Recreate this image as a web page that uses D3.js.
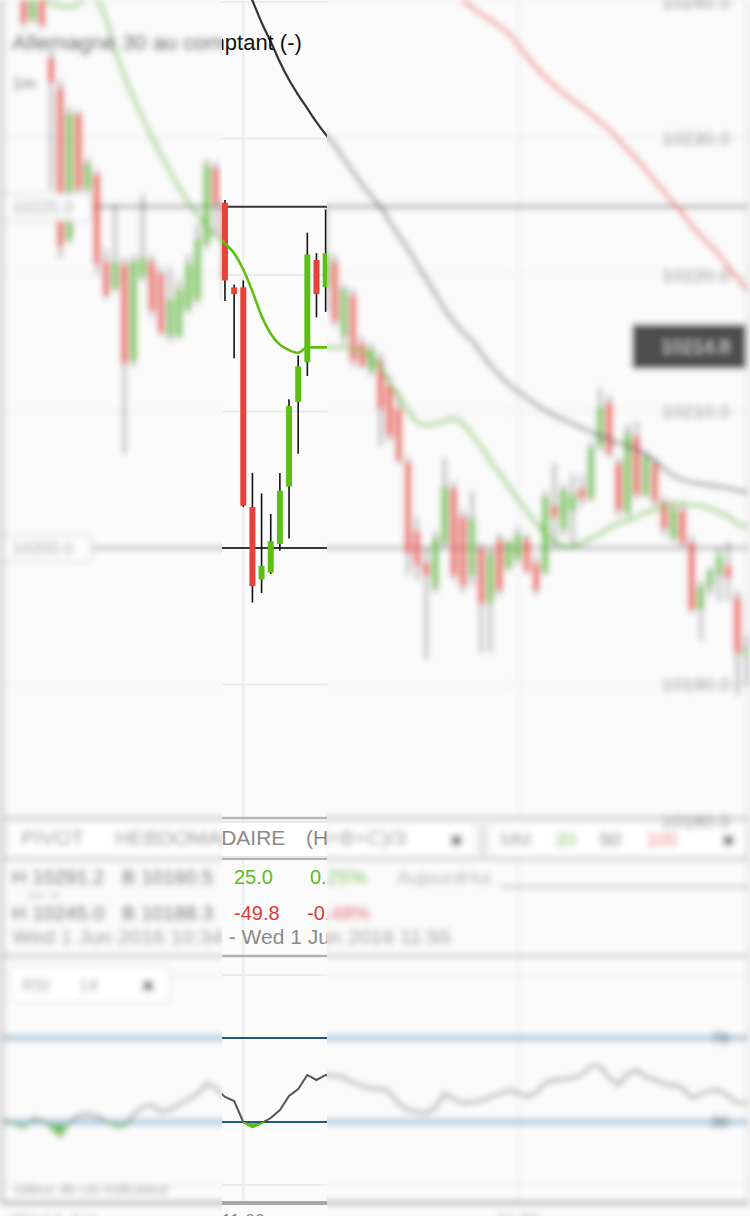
<!DOCTYPE html>
<html lang="fr">
<head>
<meta charset="utf-8">
<title>Allemagne 30 au comptant</title>
<script src="https://cdn.jsdelivr.net/npm/d3@7/dist/d3.min.js"></script>
<style>
  html, body { margin: 0; padding: 0; background: #fbfbfb; }
  svg { display: block; }
  text { font-family: "Liberation Sans", Arial, Helvetica, sans-serif; }
</style>
</head>
<body>
<svg id="chart" width="750" height="1216"></svg>
<script>
// DAX cash, 1-minute candles, Wed 1 Jun 2016 10:34 -> 11:55
const firstCandle = "10:34";

const opens = [
  10243.0, 10242.2, 10240.9, 10238.7, 10240.4, 10235.9, 10233.7, 10222.6, 10231.8, 10226.3,
  10227.4, 10221.0, 10219.0, 10220.8, 10213.7, 10219.9, 10221.0, 10220.1, 10215.5, 10215.5,
  10217.5, 10218.2, 10222.3, 10227.9,
  10225.3, 10219.1, 10219.1, 10203.0, 10197.7, 10198.2, 10200.3, 10204.5, 10210.7, 10213.6,
  10221.1, 10219.1,
  10221.0, 10215.5, 10218.5, 10215.0, 10213.0, 10213.7, 10212.0, 10210.2, 10206.3, 10201.2,
  10198.9, 10197.1, 10200.4, 10204.4, 10202.3, 10198.0, 10200.0, 10196.0, 10200.6, 10198.5,
  10199.2, 10200.7, 10198.9, 10198.2, 10203.1, 10201.4, 10202.7, 10204.4, 10203.6, 10207.4,
  10210.7, 10206.2, 10202.6, 10208.2, 10203.9, 10206.2, 10203.4, 10200.7, 10202.8, 10200.4,
  10195.5, 10197.1, 10198.0, 10198.7, 10196.4, 10192.1
];
const highs = [
  10243.6, 10242.6, 10241.2, 10240.9, 10240.7, 10236.5, 10234.3, 10232.3, 10232.1, 10228.6,
  10227.7, 10221.9, 10225.2, 10221.3, 10221.5, 10225.9, 10221.5, 10220.6, 10220.6, 10219.7,
  10221.5, 10223.7, 10228.5, 10228.3,
  10225.5, 10219.3, 10219.6, 10205.5, 10204.0, 10202.5, 10205.5, 10210.9, 10214.1, 10223.1,
  10221.6, 10224.8,
  10221.5, 10219.3, 10219.0, 10215.5, 10215.0, 10214.3, 10212.6, 10211.5, 10206.7, 10202.3,
  10200.0, 10201.2, 10206.6, 10204.9, 10202.8, 10204.2, 10200.4, 10200.0, 10201.1, 10200.7,
  10201.6, 10201.1, 10199.4, 10204.2, 10206.2, 10204.7, 10205.4, 10205.4, 10207.8, 10211.8,
  10211.2, 10206.6, 10209.1, 10209.3, 10207.1, 10206.6, 10203.8, 10203.3, 10203.1, 10200.9,
  10197.6, 10198.7, 10199.9, 10200.5, 10196.9, 10193.6
];
const lows = [
  10241.8, 10240.9, 10238.1, 10238.4, 10238.0, 10226.3, 10221.2, 10222.3, 10225.5, 10225.9,
  10220.1, 10218.2, 10218.8, 10206.9, 10213.3, 10219.5, 10216.9, 10215.5, 10215.1, 10215.3,
  10217.2, 10217.9, 10221.9, 10223.0,
  10218.1, 10213.9, 10203.0, 10196.0, 10196.7, 10198.1, 10199.8, 10200.7, 10206.9, 10212.6,
  10216.9, 10217.3,
  10216.2, 10215.0, 10213.3, 10213.1, 10212.6, 10207.4, 10207.8, 10206.1, 10198.0, 10197.6,
  10191.8, 10196.7, 10200.1, 10197.6, 10196.7, 10197.2, 10192.3, 10192.3, 10196.5, 10198.3,
  10198.8, 10198.1, 10196.5, 10198.0, 10200.0, 10200.9, 10200.1, 10203.1, 10203.4, 10207.1,
  10206.6, 10202.3, 10202.3, 10203.6, 10203.6, 10203.1, 10200.9, 10200.5, 10200.0, 10195.2,
  10193.2, 10196.5, 10196.1, 10196.1, 10189.2, 10189.9
];
const closes = [
  10242.2, 10241.4, 10238.5, 10240.5, 10238.3, 10234.1, 10222.1, 10231.8, 10226.3, 10228.2,
  10220.8, 10218.5, 10221.0, 10213.5, 10221.0, 10221.3, 10217.4, 10215.8, 10218.2, 10219.0,
  10220.8, 10222.6, 10228.1, 10225.2,
  10219.6, 10218.6, 10203.1, 10197.2, 10198.7, 10200.5, 10204.2, 10210.4, 10213.3, 10221.5,
  10218.6, 10221.6,
  10216.6, 10219.0, 10213.7, 10213.3, 10214.6, 10210.2, 10208.2, 10206.4, 10199.6, 10198.7,
  10198.0, 10200.7, 10204.5, 10198.0, 10197.2, 10202.2, 10195.9, 10199.6, 10196.9, 10200.4,
  10201.0, 10198.3, 10196.9, 10203.8, 10202.3, 10204.3, 10203.9, 10203.6, 10207.4, 10210.4,
  10206.9, 10202.8, 10208.5, 10203.9, 10206.7, 10203.4, 10201.4, 10202.9, 10200.4, 10195.5,
  10197.2, 10198.3, 10199.4, 10197.8, 10192.3, 10192.7
];

// moving averages (20 / 50 / 100 periods), one value per candle
const ma20 = [
  10242.3, 10241.8, 10241.2, 10240.7, 10240.3, 10239.9, 10239.7, 10239.6, 10239.9, 10240.3,
  10240.1, 10238.8, 10236.5, 10234.6, 10233.0, 10231.5, 10230.1, 10228.8, 10227.6, 10226.4,
  10225.3, 10224.4, 10223.5, 10222.9,
  10222.3, 10221.6, 10220.4, 10218.8, 10217.0, 10215.7, 10214.9, 10214.5, 10214.3, 10214.7,
  10214.7, 10214.7,
  10214.7, 10214.7, 10214.6, 10214.4, 10214.0, 10213.3, 10212.1, 10211.1, 10210.1, 10209.2,
  10209.0, 10209.1, 10209.3, 10209.5, 10209.1, 10208.3, 10207.4, 10206.4, 10205.5, 10204.5,
  10203.6, 10202.7, 10201.8, 10201.0, 10200.5, 10200.2, 10200.1, 10200.4, 10200.7, 10201.0,
  10201.5, 10201.8, 10202.0, 10202.3, 10202.6, 10202.8, 10203.1, 10203.3, 10203.3, 10203.1,
  10203.1, 10202.9, 10202.6, 10202.3, 10201.8, 10201.5
];
const ma50 = [
  null, null, null, null, null, null, null, null, null, null,
  null, null, null, null, null, null, null, null, null, null,
  null, null, null, null,
  null, null, 10241.6, 10240.1, 10238.5, 10237.1, 10235.6, 10234.3, 10233.2, 10232.2,
  10231.2, 10230.3,
  10229.5, 10228.5, 10227.6, 10226.6, 10225.8, 10225.0, 10223.9, 10222.9, 10221.9, 10220.8,
  10219.7, 10218.6, 10217.5, 10216.6, 10215.8, 10215.2, 10214.3, 10213.4, 10212.7, 10212.0,
  10211.5, 10211.0, 10210.5, 10210.1, 10209.7, 10209.4, 10209.1, 10208.8, 10208.5, 10208.2,
  10208.0, 10207.7, 10207.5, 10207.2, 10206.9, 10206.4, 10205.8, 10205.3, 10205.0, 10204.8,
  10204.7, 10204.6, 10204.5, 10204.4, 10204.2, 10204.1
];
const ma100 = [
  null, null, null, null, null, null, null, null, null, null,
  null, null, null, null, null, null, null, null, null, null,
  null, null, null, null,
  null, null, null, null, null, null, null, null, null, null,
  null, null,
  null, null, null, null, null, null, null, null, null, null,
  null, null, null, 10240.7, 10240.1, 10239.6, 10239.1, 10238.7, 10238.2, 10237.7,
  10236.9, 10236.0, 10235.2, 10234.5, 10233.9, 10233.3, 10232.8, 10232.3, 10231.8, 10231.2,
  10230.7, 10229.9, 10229.2, 10228.5, 10227.7, 10226.9, 10226.1, 10225.3, 10224.5, 10223.6,
  10222.9, 10222.2, 10221.5, 10220.6, 10219.8, 10218.9
];

// RSI(14)
const rsi14 = [
  31.0, 29.0, 27.1, 31.9, 31.0, 27.1, 22.9, 30.0, 33.3, 33.8,
  32.9, 30.5, 27.6, 27.6, 33.8, 37.1, 38.1, 34.8, 35.7, 38.6,
  40.5, 43.3, 48.6, 46.2,
  41.9, 40.0, 30.0, 27.6, 29.5, 31.9, 35.7, 42.4, 45.7, 52.4,
  50.0, 52.4,
  51.9, 51.4, 48.6, 47.1, 45.7, 46.2, 44.3, 38.6, 35.7, 34.8,
  34.3, 36.7, 43.8, 41.0, 39.0, 39.5, 40.0, 41.9, 43.3, 45.2,
  43.8, 41.9, 43.8, 48.6, 50.0, 50.5, 51.0, 52.4, 56.7, 56.7,
  51.0, 47.6, 52.9, 54.8, 51.4, 50.0, 48.1, 47.6, 46.2, 41.4,
  43.3, 44.8, 45.2, 42.4, 39.0, 39.0
];

const priceGrid = [10240, 10230, 10220, 10210, 10200, 10190, 10180];
const priceLabels = [10240, 10230, 10220, 10210, 10190, 10180];
const pivotLevels = [10225.0, 10200.0];
const timeTicks = ["11:00", "11:30"];
const rsiLevels = [70, 30];
const rsiFrame = [100, 0];
const maBadge = 10214.8;

const pivotHigh = ["H 10291.2", "H 10245.0"];
const pivotLow = ["B 10160.5", "B 10188.3"];
const pivotChange = ["25.0", "-49.8"];
const pivotPct = ["0.25%", "-0.48%"];
const pivotRange = "Wed 1 Jun 2016 10:34 - Wed 1 Jun 2016 11:55";

const W = 750, H = 1216;
const RED = "#e8423a", GREEN = "#5cbf13";

const parseHM = d3.timeParse("%H:%M"), fmtHM = d3.timeFormat("%H:%M");
const t0 = parseHM(firstCandle);
const times = opens.map((_, i) => fmtHM(d3.timeMinute.offset(t0, i)));
const candles = times.map((t, i) => ({ t, o: opens[i], h: highs[i], l: lows[i], c: closes[i] }));

const x = d3.scaleBand().domain(times).range([0.8, 751.1]).paddingInner(0.35).paddingOuter(0.175);
const cx = t => x(t) + x.bandwidth() / 2;
const y = d3.scaleLinear().domain([10180, 10240]).range([821, 2]);
const rsiY = d3.scaleLinear().domain([0, 100]).range([1185, 975]);

const svg = d3.select("#chart");
const defs = svg.append("defs");
defs.append("clipPath").attr("id", "mainClip")
  .append("rect").attr("x", 4).attr("y", 0).attr("width", 744).attr("height", 817);
defs.append("clipPath").attr("id", "oversold")
  .append("rect").attr("x", 0).attr("y", rsiY(30)).attr("width", W).attr("height", rsiY(0) - rsiY(30));
defs.append("clipPath").attr("id", "strip")
  .append("rect").attr("x", 222).attr("y", 0).attr("width", 105).attr("height", H);
defs.append("filter").attr("id", "soft").attr("filterUnits", "userSpaceOnUse")
  .attr("x", -20).attr("y", -20).attr("width", W + 40).attr("height", H + 40)
  .append("feGaussianBlur").attr("stdDeviation", 3.2);

function txt(g, s, px, py, size, fill, anchor) {
  return g.append("text").attr("x", px).attr("y", py).attr("font-size", size)
    .attr("fill", fill).attr("text-anchor", anchor || "start").text(s);
}

// soft = true draws the out-of-focus layer, where the RSI guide bands read wider and paler
function drawScene(g, soft) {
  g.append("rect").attr("width", W).attr("height", H).attr("fill", "#fbfbfb");

  // half-hour grid through every pane
  g.selectAll(null).data(timeTicks).join("line")
    .attr("x1", cx).attr("x2", cx).attr("y1", 0).attr("y2", 1201)
    .attr("stroke", "#ebebf0").attr("stroke-width", 2);

  // ---------- price pane ----------
  const pane = g.append("g").attr("clip-path", "url(#mainClip)");
  pane.selectAll(null).data(priceGrid).join("line")
    .attr("x1", 4).attr("x2", 748).attr("y1", d => y(d)).attr("y2", d => y(d))
    .attr("stroke", "#ececec").attr("stroke-width", 2);
  pane.selectAll(null).data(pivotLevels).join("line")
    .attr("x1", 4).attr("x2", 748).attr("y1", d => y(d)).attr("y2", d => y(d))
    .attr("stroke", "#363636").attr("stroke-width", 2);

  pane.selectAll(null).data(candles).join("line")
    .attr("x1", d => cx(d.t)).attr("x2", d => cx(d.t))
    .attr("y1", d => y(d.h)).attr("y2", d => y(d.l))
    .attr("stroke", "#111").attr("stroke-width", 1.6);
  pane.selectAll(null).data(candles).join("rect")
    .attr("x", d => x(d.t)).attr("width", x.bandwidth())
    .attr("y", d => y(Math.max(d.o, d.c)))
    .attr("height", d => Math.max(1, Math.abs(y(d.o) - y(d.c))))
    .attr("fill", d => d.c >= d.o ? GREEN : RED);

  const maPath = d3.line().defined(d => d != null)
    .x((d, i) => cx(times[i])).y(d => y(d)).curve(d3.curveMonotoneX);
  pane.append("path").attr("d", maPath(ma100)).attr("fill", "none")
    .attr("stroke", "#ec5a52").attr("stroke-width", 2.8);
  pane.append("path").attr("d", maPath(ma50)).attr("fill", "none")
    .attr("stroke", "#333").attr("stroke-width", 2.2);
  pane.append("path").attr("d", maPath(ma20)).attr("fill", "none")
    .attr("stroke", GREEN).attr("stroke-width", 2.6);

  // pivot tags on the left
  const tags = pane.selectAll(null).data(pivotLevels).join("g");
  tags.append("rect").attr("x", 3).attr("y", d => y(d) - 13).attr("width", 89).attr("height", 27)
    .attr("rx", 4).attr("fill", "#fdfdfd").attr("stroke", "#d2d2d2").attr("stroke-width", 1.5);
  tags.append("text").attr("x", 12).attr("y", d => y(d) + 6).attr("font-size", 17)
    .attr("fill", "#9a9a9a").text(d => d.toFixed(1));

  txt(g, "Allemagne 30 au comptant (-)", 12, 50, 22, "#111");
  txt(g, "1m", 12, 89, 17, "#555");

  // ---------- pivot / moving-average toolbar ----------
  g.append("line").attr("x1", 0).attr("x2", W).attr("y1", 818).attr("y2", 818)
    .attr("stroke", "#b5b5b5").attr("stroke-width", 2.5);
  g.append("rect").attr("x", 8).attr("y", 822).attr("width", 468).attr("height", 35).attr("rx", 5)
    .attr("fill", "#fff").attr("stroke", "#dedede").attr("stroke-width", 1.5);
  txt(g, "PIVOT", 21, 845, 21, "#8a8a8a");
  txt(g, "HEBDOMADAIRE", 115, 845, 21, "#8a8a8a");
  txt(g, "(H+B+C)/3", 306, 845, 21, "#8a8a8a");
  txt(g, "\u2716", 456, 847, 18, "#555", "middle");
  g.append("line").attr("x1", 483).attr("x2", 483).attr("y1", 822).attr("y2", 857)
    .attr("stroke", "#c8c8c8").attr("stroke-width", 3);
  g.append("rect").attr("x", 490).attr("y", 822).attr("width", 256).attr("height", 35).attr("rx", 5)
    .attr("fill", "#fff").attr("stroke", "#dedede").attr("stroke-width", 1.5);
  txt(g, "MM", 500, 846, 19, "#999");
  txt(g, "20", 555, 846, 19, GREEN);
  txt(g, "50", 600, 846, 19, "#555");
  txt(g, "100", 646, 846, 19, "#ee5c55");
  txt(g, "\u2716", 728, 847, 18, "#555", "middle");
  g.append("line").attr("x1", 0).attr("x2", W).attr("y1", 859).attr("y2", 859)
    .attr("stroke", "#b0b0b0").attr("stroke-width", 2);

  const rowY = [884, 920];
  const chgCol = [GREEN, "#e0393a"];
  rowY.forEach((ry, i) => {
    txt(g, pivotHigh[i], 12, ry, 20, "#3a3a3a");
    txt(g, pivotLow[i], 122, ry, 20, "#3a3a3a");
    txt(g, pivotChange[i], 234, ry, 20, chgCol[i]);
    txt(g, pivotPct[i], i === 0 ? 310 : 307, ry, 20, chgCol[i]);
  });
  txt(g, "sem. 22", 28, 898, 9, "#999");
  txt(g, "AujourdHui", 397, 884, 19, "#aaa");
  g.append("line").attr("x1", 500).attr("x2", 747).attr("y1", 887).attr("y2", 887)
    .attr("stroke", "#c4c4c4").attr("stroke-width", 3);
  txt(g, pivotRange, 12, 944, 21, "#8a8a8a");
  g.append("line").attr("x1", 0).attr("x2", W).attr("y1", 956).attr("y2", 956)
    .attr("stroke", "#b0b0b0").attr("stroke-width", 2.5);

  // ---------- RSI pane ----------
  g.selectAll(null).data(rsiFrame).join("line")
    .attr("x1", 4).attr("x2", 748).attr("y1", d => rsiY(d)).attr("y2", d => rsiY(d))
    .attr("stroke", "#ececec").attr("stroke-width", 2);
  const rsiLine = d3.line().x((d, i) => cx(times[i])).y(d => rsiY(d));
  const rsiArea = d3.area().x((d, i) => cx(times[i])).y0(rsiY(30)).y1(d => rsiY(d));
  // oversold zone filled green
  g.append("path").attr("d", rsiArea(rsi14)).attr("clip-path", "url(#oversold)")
    .attr("fill", "#66c423");
  g.selectAll(null).data(rsiLevels).join("line")
    .attr("x1", 4).attr("x2", 748).attr("y1", d => rsiY(d)).attr("y2", d => rsiY(d))
    .attr("stroke", soft ? "#a9c9dc" : "#1e5b7b").attr("stroke-width", soft ? 6 : 2.2);
  g.append("path").attr("d", rsiLine(rsi14)).attr("fill", "none")
    .attr("stroke", "#555").attr("stroke-width", 2);
  g.append("path").attr("d", rsiLine(rsi14)).attr("clip-path", "url(#oversold)")
    .attr("fill", "none").attr("stroke", GREEN).attr("stroke-width", 2);

  g.append("rect").attr("x", 10).attr("y", 966).attr("width", 160).attr("height", 37).attr("rx", 5)
    .attr("fill", "#fff").attr("stroke", "#dedede").attr("stroke-width", 1.5);
  txt(g, "RSI", 22, 991, 17, "#999");
  txt(g, "14", 79, 991, 17, "#999");
  txt(g, "\u2716", 148, 992, 17, "#555", "middle");
  rsiLevels.forEach(v => txt(g, String(v), 720, rsiY(v) + 6, 16, "#444", "middle"));
  txt(g, "Valeur de cet indicateur", 13, 1194, 15, "#999");
  g.append("line").attr("x1", 0).attr("x2", W).attr("y1", 1203).attr("y2", 1203)
    .attr("stroke", "#a8a8a8").attr("stroke-width", 4);

  // frame
  g.append("rect").attr("x", 0).attr("y", 0).attr("width", 4).attr("height", 1205).attr("fill", "#c2c2c2");
  g.append("rect").attr("x", 747).attr("y", 0).attr("width", 2).attr("height", 1205).attr("fill", "#d0d0d0");

  // price scale on the right
  g.selectAll(null).data(priceLabels).join("text")
    .attr("x", 730).attr("y", d => y(d) + 6.5).attr("font-size", 19).attr("fill", "#8a8a8a")
    .attr("text-anchor", "end").text(d => d.toFixed(1));
  g.append("rect").attr("x", 632).attr("y", y(maBadge) - 22).attr("width", 114).attr("height", 45)
    .attr("rx", 3).attr("fill", "#4d4d4d");
  txt(g, maBadge.toFixed(1), 730, y(maBadge) + 7, 19, "#d8d8d8", "end");

  // time axis
  txt(g, "Wed 1 Jun", 12, 1227, 18, "#888");
  g.selectAll(null).data(timeTicks).join("text")
    .attr("x", cx).attr("y", 1227).attr("font-size", 18).attr("fill", "#888")
    .attr("text-anchor", "middle").text(d => d);
}

svg.append("g").attr("filter", "url(#soft)").call(drawScene, true);
svg.append("g").attr("clip-path", "url(#strip)").call(drawScene, false);
</script>
</body>
</html>
